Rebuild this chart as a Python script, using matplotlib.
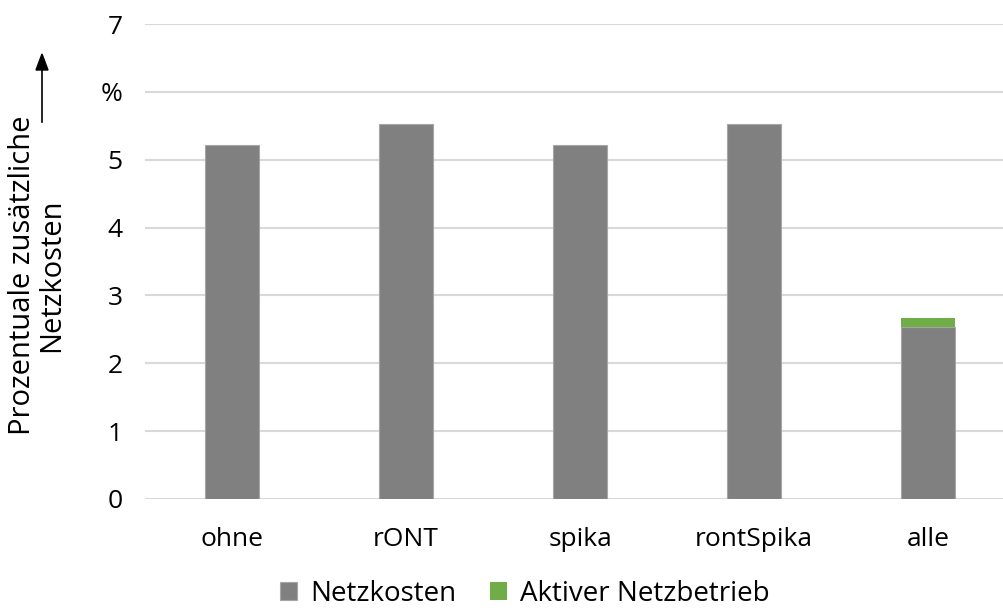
import matplotlib.pyplot as plt
import numpy as np

plt.rcParams['font.family'] = ['Open Sans', 'DejaVu Sans']

categories = ['ohne', 'rONT', 'spika', 'rontSpika', 'alle']
netzkosten = [5.22, 5.53, 5.22, 5.53, 2.53]
aktiver_betrieb = [0, 0, 0, 0, 0.14]
ytick_vals = [0, 1, 2, 3, 4, 5, 6, 7]
ytick_labels = ['0', '1', '2', '3', '4', '5', '%', '7']

W, H = 1004, 609
fs = 19
fig = plt.figure(figsize=(W / 100, H / 100), dpi=100)
ax = fig.add_axes([145 / W, 1 - 499 / H, (W - 145) / W, (499 - 24) / H])

x = np.arange(len(categories))
bar_width = 0.315
ax.bar(x, netzkosten, width=bar_width, color='#808080', edgecolor='#a6a6a6',
       linewidth=0.8, label='Netzkosten', zorder=3)
ax.bar(x, aktiver_betrieb, bottom=netzkosten, width=bar_width, color='#70ad47',
       label='Aktiver Netzbetrieb', zorder=3)

ax.set_ylim(0, 7)
ax.set_xlim(-0.5, (W - 145) / 174 - 0.5)
ax.set_yticks(ytick_vals)
ax.set_yticklabels(ytick_labels)
ax.set_xticks(x)
ax.set_xticklabels(categories)
ax.tick_params(axis='both', length=0, labelsize=fs, colors='black')
ax.tick_params(axis='y', pad=16)
ax.tick_params(axis='x', pad=20)
ax.grid(axis='y', color='#d9d9d9', linewidth=1.5, zorder=0)
for s in ax.spines.values():
    s.set_visible(False)

# y-Achsenbeschriftung mit Pfeil
fig.text(37 / W, 1 - 275 / H, 'Prozentuale zusätzliche\nNetzkosten', rotation=90,
         ha='center', va='center', fontsize=21, linespacing=1.0)
fig.add_artist(plt.Line2D([42 / W, 42 / W], [1 - 122 / H, 1 - 68 / H],
                          color='black', linewidth=1.2))
fig.add_artist(plt.Polygon([[36 / W, 1 - 70 / H], [48 / W, 1 - 70 / H], [42 / W, 1 - 54 / H]],
                           closed=True, color='black', transform=fig.transFigure))

fig.legend(loc='center', bbox_to_anchor=(525 / W, 1 - 594 / H), ncol=2, frameon=False,
           fontsize=20, handlelength=0.6, handleheight=0.6, handletextpad=0.5,
           columnspacing=1.2, borderpad=0)

plt.savefig('out.png', dpi=100)
